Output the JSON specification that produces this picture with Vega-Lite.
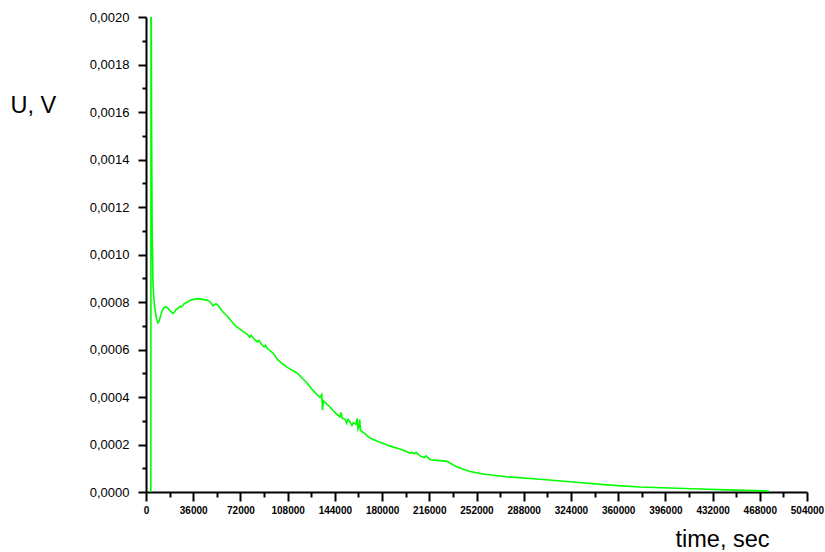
{
  "$schema": "https://vega.github.io/schema/vega-lite/v6.json",
  "width": 661,
  "height": 475,
  "autosize": {"type": "none"},
  "padding": {"left": 146, "top": 17, "right": 18, "bottom": 60},
  "background": "white",
  "config": {"view": {"stroke": null}, "font": "Liberation Sans"},
  "data": {"values": [
    {"t": 3700, "u": 0},
    {"t": 3800, "u": 0.0024},
    {"t": 4200, "u": 0.0016},
    {"t": 4700, "u": 0.0011},
    {"t": 5300, "u": 0.00088},
    {"t": 6500, "u": 0.00078},
    {"t": 8000, "u": 0.00073},
    {"t": 9000, "u": 0.000712},
    {"t": 10000, "u": 0.000718},
    {"t": 11500, "u": 0.00075},
    {"t": 13000, "u": 0.000772},
    {"t": 14500, "u": 0.00078},
    {"t": 16000, "u": 0.000777},
    {"t": 17500, "u": 0.000768},
    {"t": 19000, "u": 0.00076},
    {"t": 20500, "u": 0.000752},
    {"t": 21500, "u": 0.000756},
    {"t": 23000, "u": 0.000768},
    {"t": 25000, "u": 0.000776},
    {"t": 26000, "u": 0.000782},
    {"t": 27000, "u": 0.000779},
    {"t": 29000, "u": 0.000792},
    {"t": 31000, "u": 0.000798},
    {"t": 33000, "u": 0.000805},
    {"t": 35500, "u": 0.00081},
    {"t": 38900, "u": 0.000814},
    {"t": 42000, "u": 0.000812},
    {"t": 46500, "u": 0.000808},
    {"t": 49000, "u": 0.0008},
    {"t": 51100, "u": 0.000784},
    {"t": 52000, "u": 0.000788},
    {"t": 53400, "u": 0.000793},
    {"t": 55000, "u": 0.000785},
    {"t": 58700, "u": 0.000758},
    {"t": 62000, "u": 0.00074},
    {"t": 65600, "u": 0.000716},
    {"t": 68500, "u": 0.000698},
    {"t": 71700, "u": 0.000686},
    {"t": 74000, "u": 0.000676},
    {"t": 77000, "u": 0.000665},
    {"t": 79000, "u": 0.000652},
    {"t": 80000, "u": 0.00066},
    {"t": 83100, "u": 0.00064},
    {"t": 85000, "u": 0.000632},
    {"t": 86000, "u": 0.000638},
    {"t": 88500, "u": 0.000619},
    {"t": 90000, "u": 0.000611},
    {"t": 91000, "u": 0.000618},
    {"t": 93000, "u": 0.000602},
    {"t": 96800, "u": 0.000585},
    {"t": 100600, "u": 0.000556},
    {"t": 104000, "u": 0.00054},
    {"t": 107500, "u": 0.000526},
    {"t": 111000, "u": 0.000514},
    {"t": 115100, "u": 0.000501},
    {"t": 119000, "u": 0.00048},
    {"t": 122800, "u": 0.000459},
    {"t": 127000, "u": 0.00043},
    {"t": 130000, "u": 0.000412},
    {"t": 132700, "u": 0.000398},
    {"t": 134000, "u": 0.00041},
    {"t": 134600, "u": 0.000345},
    {"t": 135200, "u": 0.000385},
    {"t": 137500, "u": 0.000372},
    {"t": 140300, "u": 0.000358},
    {"t": 144000, "u": 0.000335},
    {"t": 147900, "u": 0.000316},
    {"t": 148800, "u": 0.000335},
    {"t": 149500, "u": 0.000312},
    {"t": 152000, "u": 0.000305},
    {"t": 153000, "u": 0.00029},
    {"t": 154000, "u": 0.000306},
    {"t": 155600, "u": 0.000295},
    {"t": 157000, "u": 0.00028},
    {"t": 158000, "u": 0.000292},
    {"t": 160000, "u": 0.000285},
    {"t": 161000, "u": 0.00031},
    {"t": 161650, "u": 0.000265},
    {"t": 162500, "u": 0.000275},
    {"t": 163000, "u": 0.000305},
    {"t": 163500, "u": 0.00026},
    {"t": 167000, "u": 0.000245},
    {"t": 170800, "u": 0.000227},
    {"t": 176000, "u": 0.000215},
    {"t": 183800, "u": 0.000198},
    {"t": 188000, "u": 0.00019},
    {"t": 193700, "u": 0.000181},
    {"t": 197000, "u": 0.000174},
    {"t": 201300, "u": 0.000164},
    {"t": 203000, "u": 0.000167},
    {"t": 204500, "u": 0.000162},
    {"t": 206000, "u": 0.000166},
    {"t": 208900, "u": 0.000152},
    {"t": 212000, "u": 0.000145},
    {"t": 213500, "u": 0.000152},
    {"t": 216600, "u": 0.000136},
    {"t": 222000, "u": 0.000133},
    {"t": 229500, "u": 0.000129},
    {"t": 233000, "u": 0.000118},
    {"t": 236000, "u": 0.000108},
    {"t": 239400, "u": 0.000101},
    {"t": 247000, "u": 0.000086},
    {"t": 258000, "u": 0.000075},
    {"t": 275300, "u": 0.000064},
    {"t": 300400, "u": 0.000054},
    {"t": 325600, "u": 0.000042},
    {"t": 351500, "u": 0.00003},
    {"t": 376600, "u": 0.000021},
    {"t": 422000, "u": 0.0000126},
    {"t": 450000, "u": 0.000008},
    {"t": 475000, "u": 0.000004}
  ]},
  "mark": {"type": "line", "color": "#00ff00", "strokeWidth": 1.6, "clip": true},
  "encoding": {
    "x": {
      "field": "t", "type": "quantitative",
      "scale": {"domain": [0, 504000], "nice": false, "zero": false},
      "axis": {
        "values": [0, 18000, 36000, 54000, 72000, 90000, 108000, 126000, 144000, 162000, 180000, 198000, 216000, 234000, 252000, 270000, 288000, 306000, 324000, 342000, 360000, 378000, 396000, 414000, 432000, 450000, 468000, 486000, 504000],
        "labelExpr": "datum.value % 36000 === 0 ? format(datum.value, 'd') : ''",
        "grid": false,
        "domainColor": "black", "domainWidth": 2,
        "tickColor": "black", "tickWidth": 2,
        "tickSize": {"condition": {"test": "datum.value % 36000 === 0", "value": 9}, "value": 5},
        "labelFont": "Liberation Sans", "labelFontSize": 10, "labelFontWeight": "bold", "labelColor": "black",
        "labelPadding": 4, "labelFlush": false, "labelOverlap": false,
        "title": "time, sec", "titleFont": "Liberation Sans", "titleFontSize": 23.5, "titleFontWeight": "normal", "titleColor": "black",
        "titleAlign": "left", "titleBaseline": "alphabetic", "titleX": 529, "titleY": 54
      }
    },
    "y": {
      "field": "u", "type": "quantitative",
      "scale": {"domain": [0, 0.002], "nice": false},
      "axis": {
        "values": [0, 0.0001, 0.0002, 0.0003, 0.0004, 0.0005, 0.0006, 0.0007, 0.0008, 0.0009, 0.001, 0.0011, 0.0012, 0.0013, 0.0014, 0.0015, 0.0016, 0.0017, 0.0018, 0.0019, 0.002],
        "labelExpr": "round(datum.value * 10000) % 2 === 0 ? replace(format(datum.value, '.4f'), '.', ',') : ''",
        "grid": false,
        "domainColor": "black", "domainWidth": 2,
        "tickColor": "black", "tickWidth": 2,
        "tickSize": {"condition": {"test": "round(datum.value * 10000) % 2 === 0", "value": 8}, "value": 4},
        "labelFont": "Liberation Sans", "labelFontSize": 13, "labelColor": "black",
        "labelPadding": 9, "labelFlush": false, "labelOverlap": false,
        "title": "U, V", "titleFont": "Liberation Sans", "titleFontSize": 23.5, "titleFontWeight": "normal", "titleColor": "black",
        "titleAngle": 0, "titleAlign": "left", "titleBaseline": "alphabetic", "titleX": -136, "titleY": 95
      }
    }
  }
}
